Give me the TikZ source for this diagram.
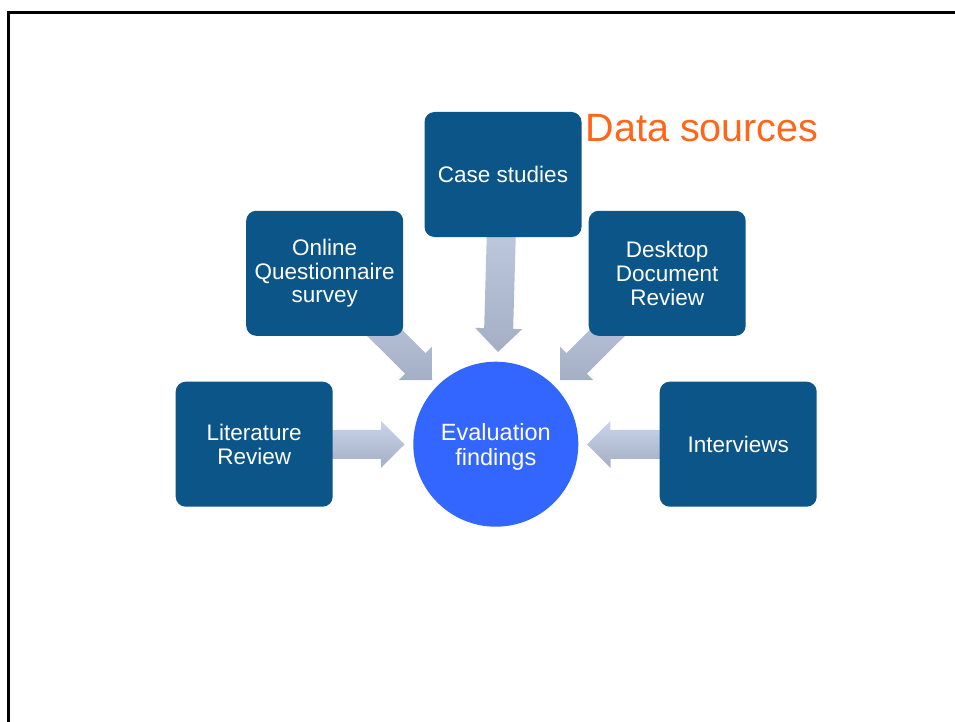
\documentclass[tikz,border=0pt]{standalone}
\usepackage{fontspec}
\setmainfont{Liberation Sans}
\usetikzlibrary{calc,backgrounds}
\definecolor{boxblue}{RGB}{11,85,137}
\definecolor{circblue}{RGB}{51,102,255}
\definecolor{arrtop}{RGB}{201,211,233}
\definecolor{arrbot}{RGB}{164,175,197}
\definecolor{titleorange}{RGB}{255,102,25}
\newcommand\blockarrow[2]{%
  \coordinate (hb) at ($(#2)!23.5pt!(#1)$);
  \path[arrowfill] ($(#1)!14.5pt!90:(#2)$) -- ($(hb)!14.5pt!90:(#2)$)
    -- ($(hb)!23.5pt!90:(#2)$) -- (#2) -- ($(hb)!23.5pt!-90:(#2)$)
    -- ($(hb)!14.5pt!-90:(#2)$) -- ($(#1)!14.5pt!-90:(#2)$) -- cycle;}
\tikzset{
  srcbox/.style={rounded corners=10pt, fill=boxblue, minimum width=157pt,
    minimum height=125pt, inner sep=0pt, text=white, align=center,
    font=\fontsize{22.5}{23.7}\selectfont},
  hub/.style={circle, fill=circblue, minimum size=165pt, inner sep=0pt},
  hubtext/.style={text=white, align=center, inner sep=0pt,
    font=\fontsize{23.5}{25}\selectfont},
  arrowfill/.style={top color=arrtop, bottom color=arrbot, draw=none},
  frameline/.style={line width=2.7pt, line join=miter}
}
\begin{document}
\begin{tikzpicture}[x=1pt,y=-1pt]
\useasboundingbox (0,0) rectangle (955,722);
\draw[frameline] (8.8,722) -- (8.8,12.3) -- (955,12.3);
\node[srcbox] (case) at (503,174.5) {Case studies};
\node[srcbox] (online) at (324.7,273.3) {Online\\Questionnaire\\survey};
\node[srcbox] (desk) at (667.2,273.3) {Desktop\\Document\\Review};
\node[srcbox] (lit) at (254.2,444.2) {Literature\\Review};
\node[srcbox] (inter) at (738.2,444.2) {Interviews};
\node[hub] (eval) at (495.8,444.2) {};
\node[hubtext, yshift=-3pt] (evaltext) at (eval.center) {Evaluation\\findings};
\node[anchor=base west, text=titleorange, font=\fontsize{39.5}{42}\selectfont, inner sep=0pt] (title) at (585.5,141.5) {Data sources};
\coordinate (tcase) at (498,352);
\coordinate (tonline) at (432,380);
\coordinate (tdesk) at (560,380);
\coordinate (tlit) at (404.5,444.5);
\coordinate (tinter) at (587,444.5);
\begin{scope}[on background layer]
\blockarrow{case.center}{tcase}
\blockarrow{online.center}{tonline}
\blockarrow{desk.center}{tdesk}
\blockarrow{lit.center}{tlit}
\blockarrow{inter.center}{tinter}
\end{scope}
\end{tikzpicture}
\end{document}
